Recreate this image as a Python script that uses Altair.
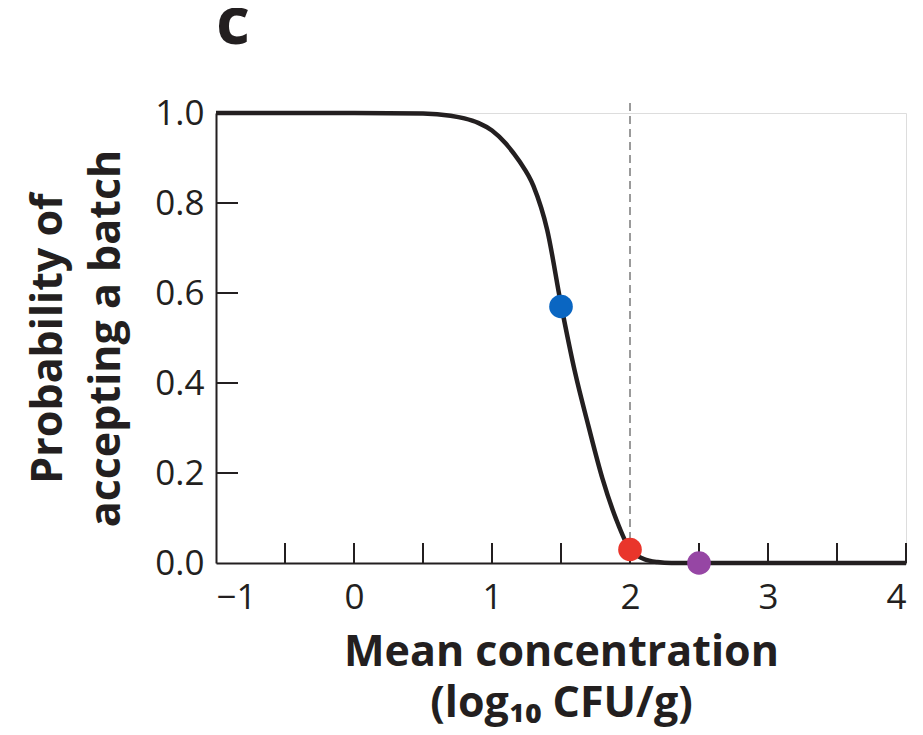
import altair as alt
import pandas as pd

# Curve
curve_x = [-1.0, -0.5, 0.0, 0.5, 0.7, 0.8, 0.9, 1.0, 1.1, 1.2, 1.3, 1.4, 1.5,
           1.6, 1.7, 1.8, 1.9, 2.0, 2.1, 2.2, 2.3, 2.5, 3.0, 3.5, 4.0]
curve_p = [1.0, 1.0, 1.0, 0.999, 0.994, 0.988, 0.978, 0.961, 0.932, 0.892, 0.838,
           0.74, 0.575, 0.426, 0.303, 0.188, 0.097, 0.03, 0.009, 0.002, 0.0, 0.0,
           0.0, 0.0, 0.0]

# Highlighted points
point_x = [1.5, 2.0, 2.5]
point_p = [0.57, 0.03, 0.0]
point_name = ["a", "b", "d"]
point_color = ["#0a66c2", "#e9352b", "#9646a4"]

# Threshold line
threshold_x = [2.0]

# Ticks and labels
x_label_values = [-1, 0, 1, 2, 3, 4]
x_tick_values = [-0.5, 0, 0.5, 1, 1.5, 2, 2.5, 3, 3.5, 4]
y_label_values = [0.0, 0.2, 0.4, 0.6, 0.8, 1.0]
y_tick_values = [0.2, 0.4, 0.6, 0.8]

W, H = 690, 450
FONT = "Open Sans"
INK = "#231f20"

curve_df = pd.DataFrame({"x": curve_x, "p": curve_p})
pts_df = pd.DataFrame({"x": point_x, "p": point_p, "name": point_name})
thr_df = pd.DataFrame({"x": threshold_x})
xt_df = pd.DataFrame({"x": x_tick_values})
yt_df = pd.DataFrame({"y": y_tick_values})

xscale = alt.Scale(domain=[-1, 4], nice=False, zero=False)
yscale = alt.Scale(domain=[0, 1], nice=False)

x_axis = alt.Axis(
    values=x_label_values, ticks=False, grid=False, format="d",
    labelFontSize=35, labelFont=FONT, labelColor=INK, labelPadding=17,
    domainColor=INK, domainWidth=2,
    title=["Mean concentration", "(log₁₀ CFU/g)"],
    titleFontSize=43, titleFont=FONT, titleFontWeight="bold", titleColor=INK,
    titlePadding=16, titleLineHeight=51,
)
y_axis = alt.Axis(
    values=y_label_values, ticks=False, grid=False, format=".1f",
    labelFontSize=35, labelFont=FONT, labelColor=INK, labelPadding=12,
    domainColor=INK, domainWidth=2,
    title=["Probability of", "accepting a batch"],
    titleFontSize=43, titleFont=FONT, titleFontWeight="bold", titleColor=INK,
    titlePadding=26, titleLineHeight=58,
)

base_axes = alt.Chart(curve_df).mark_line(opacity=0).encode(
    x=alt.X("x:Q", scale=xscale, axis=x_axis),
    y=alt.Y("p:Q", scale=yscale, axis=y_axis),
)

threshold = alt.Chart(thr_df).mark_rule(
    color="#7a7a7a", strokeWidth=1.5, strokeDash=[8, 5]
).encode(
    x=alt.X("x:Q", scale=xscale),
    y=alt.value(-10),
    y2=alt.value(H),
)

xticks = alt.Chart(xt_df).mark_rule(color=INK, strokeWidth=2).encode(
    x=alt.X("x:Q", scale=xscale),
    y=alt.value(H),
    y2=alt.value(H - 20),
)

yticks = alt.Chart(yt_df).mark_rule(color=INK, strokeWidth=2).encode(
    y=alt.Y("y:Q", scale=yscale),
    x=alt.value(0),
    x2=alt.value(22),
)

curve = alt.Chart(curve_df).mark_line(
    color=INK, strokeWidth=4.5, interpolate="monotone", clip=False
).encode(
    x=alt.X("x:Q", scale=xscale),
    y=alt.Y("p:Q", scale=yscale),
)

points = alt.Chart(pts_df).mark_circle(size=560, opacity=1).encode(
    x=alt.X("x:Q", scale=xscale),
    y=alt.Y("p:Q", scale=yscale),
    color=alt.Color("name:N", scale=alt.Scale(domain=point_name, range=point_color),
                    legend=None),
)

chart = alt.layer(base_axes, threshold, xticks, yticks, curve, points).properties(
    width=W, height=H,
    autosize=alt.AutoSizeParams(type="none"),
    padding={"left": 208, "top": 105, "right": 8, "bottom": 166},
    title=alt.TitleParams("c", anchor="start", frame="group", fontSize=66,
                          font=FONT, fontWeight="bold", color=INK, offset=38),
).configure_view(strokeWidth=0).configure(background="white")

chart.save("out.html", embed_options={"renderer": "svg", "actions": False})
